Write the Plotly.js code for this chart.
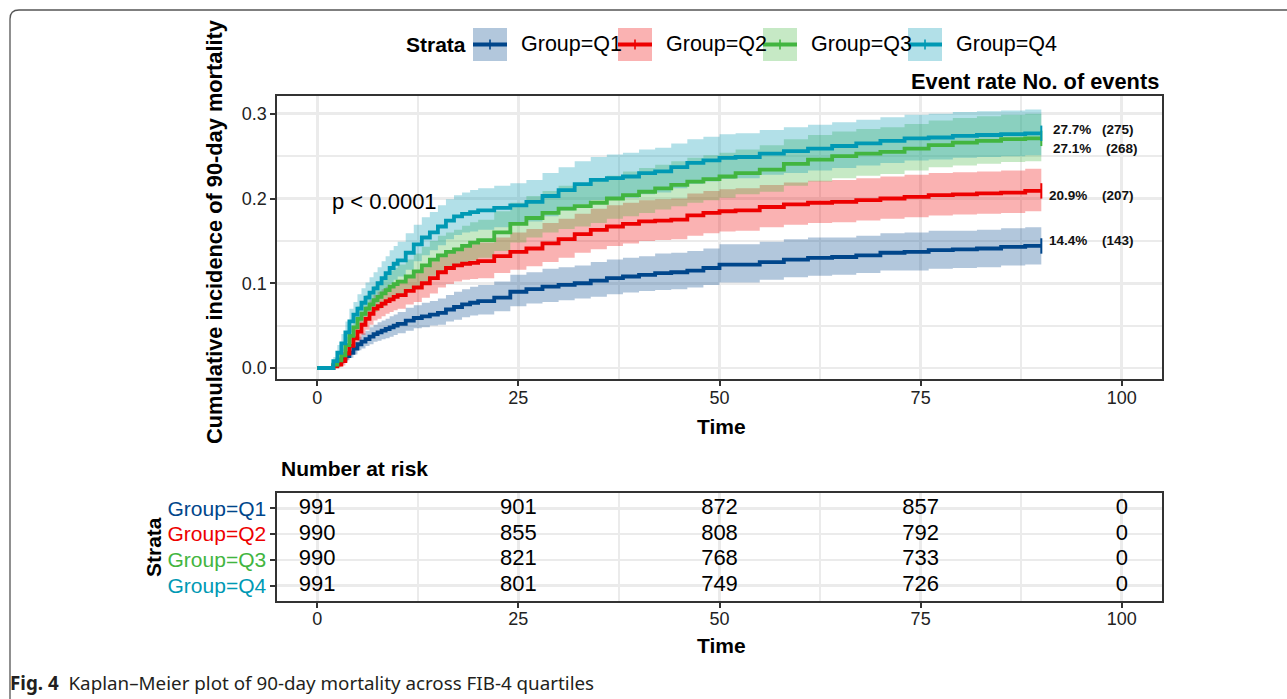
<!DOCTYPE html>
<html><head><meta charset="utf-8">
<script src="https://cdn.plot.ly/plotly-3.0.1.min.js"></script>
<style>html,body{margin:0;padding:0;background:#fff;} #chart{width:1287px;height:699px;}</style>
</head><body><div id="chart"></div>
<script>
// ---------- data ----------
const groups = ['Group=Q1', 'Group=Q2', 'Group=Q3', 'Group=Q4'];
const time = [0,2,2.5,3,3.5,4,4.5,5,5.5,6,6.5,7,7.5,8,8.5,9,9.5,10,
  11,12,13,14,15,16,17,18,19,20,22,24,26,28,30,32,34,36,38,40,42,44,46,48,50,52,55,58,61,64,67,70,73,76,79,82,85,88,90];

const q1Est = [0,.003,.007,.010,.014,.018,.023,.028,.031,.034,.037,.040,.042,.044,.046,.048,.050,.052,
  .056,.059,.061,.063,.065,.069,.072,.075,.077,.079,.083,.090,.093,.096,.098,.100,.103,.106,.108,.110,.112,.113,.115,.118,.122,.122,.125,.128,.130,.131,.133,.136,.137,.139,.140,.141,.143,.144,.144];
const q1Lo  = [0,.001,.003,.006,.009,.012,.016,.021,.023,.026,.028,.031,.032,.034,.035,.037,.039,.041,
  .044,.047,.048,.050,.051,.055,.057,.060,.062,.063,.067,.073,.076,.078,.080,.082,.084,.087,.089,.091,.092,.093,.095,.098,.101,.101,.104,.107,.109,.110,.112,.115,.115,.117,.118,.119,.121,.122,.122];
const q1Hi  = [0,.006,.011,.015,.020,.025,.031,.037,.041,.044,.048,.051,.054,.056,.058,.061,.063,.066,
  .071,.074,.077,.079,.082,.086,.090,.093,.096,.098,.102,.110,.113,.117,.119,.121,.125,.128,.130,.132,.135,.136,.138,.141,.146,.146,.149,.152,.154,.154,.156,.159,.160,.162,.162,.163,.165,.166,.166];

const q2Est = [0,.002,.004,.008,.017,.026,.035,.043,.051,.058,.064,.070,.073,.076,.079,.081,.084,.086,
  .091,.095,.100,.106,.113,.118,.121,.123,.124,.126,.132,.137,.141,.147,.152,.158,.163,.167,.170,.173,.174,.175,.180,.183,.185,.186,.190,.193,.195,.196,.198,.200,.202,.204,.205,.206,.207,.209,.209];
const q2Lo  = [0,0,.001,.003,.010,.017,.025,.032,.039,.045,.051,.056,.058,.061,.064,.066,.068,.070,
  .075,.078,.083,.088,.095,.099,.102,.104,.105,.106,.112,.116,.120,.125,.130,.136,.140,.144,.147,.150,.151,.152,.156,.159,.161,.162,.166,.169,.171,.172,.174,.176,.178,.180,.181,.182,.183,.185,.185];
const q2Hi  = [0,.005,.008,.014,.025,.036,.046,.056,.065,.073,.080,.086,.090,.093,.096,.098,.101,.104,
  .109,.114,.119,.126,.134,.139,.142,.145,.146,.148,.154,.160,.164,.171,.176,.182,.188,.192,.195,.198,.199,.200,.206,.209,.211,.212,.216,.219,.221,.222,.224,.226,.228,.230,.231,.232,.233,.235,.235];

const q3Est = [0,.004,.009,.015,.027,.038,.048,.058,.064,.070,.075,.080,.084,.088,.092,.096,.099,.102,
  .108,.114,.121,.128,.133,.137,.140,.144,.148,.151,.160,.170,.177,.183,.188,.191,.195,.200,.204,.208,.212,.216,.220,.223,.226,.230,.234,.241,.246,.250,.253,.255,.259,.263,.266,.268,.270,.271,.271];
const q3Lo  = [0,.001,.004,.008,.018,.028,.037,.046,.051,.057,.062,.066,.070,.073,.077,.080,.083,.085,
  .091,.096,.102,.109,.113,.117,.120,.123,.127,.130,.138,.148,.154,.160,.164,.167,.171,.176,.179,.183,.187,.191,.195,.198,.201,.205,.208,.215,.220,.224,.227,.229,.233,.237,.239,.241,.243,.244,.244];
const q3Hi  = [0,.008,.015,.023,.037,.050,.061,.073,.079,.086,.091,.097,.101,.106,.110,.115,.118,.122,
  .128,.135,.143,.150,.156,.160,.163,.168,.172,.175,.185,.195,.203,.209,.215,.218,.222,.227,.232,.236,.240,.244,.248,.251,.254,.258,.263,.270,.275,.279,.282,.284,.288,.292,.295,.297,.299,.300,.300];

const q4Est = [0,.008,.018,.029,.042,.055,.063,.070,.077,.083,.089,.094,.100,.106,.112,.118,.123,.127,
  .136,.146,.154,.160,.167,.174,.179,.182,.184,.186,.189,.192,.196,.203,.210,.217,.222,.224,.226,.230,.232,.237,.242,.245,.248,.249,.253,.256,.259,.262,.265,.268,.271,.272,.274,.275,.276,.277,.277];
const q4Lo  = [0,.003,.010,.020,.031,.042,.049,.055,.061,.067,.072,.077,.082,.088,.093,.099,.104,.108,
  .116,.126,.133,.139,.145,.152,.157,.160,.161,.163,.166,.169,.173,.179,.186,.193,.198,.199,.201,.205,.207,.212,.217,.220,.223,.224,.228,.230,.233,.236,.239,.242,.245,.246,.248,.249,.250,.251,.251];
const q4Hi  = [0,.013,.027,.040,.055,.070,.078,.087,.094,.101,.107,.113,.119,.126,.132,.139,.144,.149,
  .159,.169,.178,.184,.192,.199,.204,.207,.210,.212,.215,.218,.222,.230,.237,.244,.249,.252,.254,.258,.260,.265,.270,.273,.276,.277,.281,.284,.287,.290,.293,.296,.299,.300,.302,.303,.304,.305,.305];

const eventRate = ['14.4%', '20.9%', '27.1%', '27.7%'];
const nEvents   = ['(143)', '(207)', '(268)', '(275)'];

const riskTimes = [0, 25, 50, 75, 100];
const riskQ1 = [991, 901, 872, 857, 0];
const riskQ2 = [990, 855, 808, 792, 0];
const riskQ3 = [990, 821, 768, 733, 0];
const riskQ4 = [991, 801, 749, 726, 0];

const pText = 'p < 0.0001';
const xTicks = [0, 25, 50, 75, 100];
const yTicks = [0, 0.1, 0.2, 0.3];

// ---------- styles ----------
const colors = ['#00468B', '#ED0000', '#42B540', '#0099B4'];
const fills  = ['rgba(0,70,139,0.3)', 'rgba(237,0,0,0.3)', 'rgba(66,181,64,0.3)', 'rgba(0,153,180,0.3)'];
const FONT = 'Liberation Sans, Arial, Helvetica, sans-serif';
const W = 1287, H = 699;
const px = v => v / W, py = v => 1 - v / H;

const est = [q1Est, q2Est, q3Est, q4Est];
const lo  = [q1Lo, q2Lo, q3Lo, q4Lo];
const hi  = [q1Hi, q2Hi, q3Hi, q4Hi];
const risk = [riskQ1, riskQ2, riskQ3, riskQ4];

const traces = [];
groups.forEach((g, i) => {
  traces.push({x: time, y: lo[i], mode: 'lines', line: {width: 0, shape: 'hv'}, showlegend: false, hoverinfo: 'skip', xaxis: 'x', yaxis: 'y'});
  traces.push({x: time, y: hi[i], mode: 'lines', line: {width: 0, shape: 'hv'}, fill: 'tonexty', fillcolor: fills[i], showlegend: false, hoverinfo: 'skip', xaxis: 'x', yaxis: 'y'});
});
groups.forEach((g, i) => {
  traces.push({x: time, y: est[i], mode: 'lines', name: g, line: {width: 3.8, shape: 'hv', color: colors[i]}, showlegend: false, xaxis: 'x', yaxis: 'y'});
});
groups.forEach((g, i) => {
  const n = time.length - 1;
  traces.push({x: [time[n]], y: [est[i][n]], mode: 'markers', marker: {symbol: 'line-ns', size: 11, line: {width: 2, color: colors[i]}}, showlegend: false, xaxis: 'x', yaxis: 'y'});
});
// risk table
groups.forEach((g, i) => {
  traces.push({x: riskTimes, y: riskTimes.map(() => groups.length - i), mode: 'text', text: risk[i].map(String),
    textposition: 'middle center', textfont: {family: FONT, size: 22, color: '#000'}, showlegend: false, xaxis: 'x2', yaxis: 'y2'});
});

const gridC = '#EBEBEB';
const axisCommon = {showline: true, mirror: true, linecolor: '#333', linewidth: 1.6, ticks: 'outside', ticklen: 5, tickwidth: 2, tickcolor: '#333',
  showgrid: true, gridcolor: gridC, gridwidth: 2.6, zeroline: false, tickfont: {family: FONT, size: 18, color: '#222'}};

const annotations = [];
const ann = (o) => annotations.push(Object.assign({showarrow: false, xref: 'paper', yref: 'paper', font: {family: FONT, size: 21, color: '#000'}}, o));

ann({text: '<b>Cumulative incidence of 90-day mortality</b>', x: px(215), y: py(232), textangle: -90, xanchor: 'center', yanchor: 'middle', font: {family: FONT, size: 21.8, color: '#000'}});
ann({text: '<b>Time</b>', x: px(721), y: py(427), xanchor: 'center', yanchor: 'middle'});
ann({text: '<b>Event rate No. of events</b>', x: px(1161), y: py(82), xanchor: 'right', yanchor: 'middle', font: {family: FONT, size: 21.8, color: '#000'}});
ann({text: pText, x: 1.6, y: 0.196, xref: 'x', yref: 'y', xanchor: 'left', yanchor: 'middle', font: {family: FONT, size: 22, color: '#000'}});
ann({text: '<b>Number at risk</b>', x: px(279), y: py(468), xanchor: 'left', yanchor: 'middle'});
ann({text: '<b>Strata</b>', x: px(153), y: py(547), textangle: -90, xanchor: 'center', yanchor: 'middle'});
ann({text: '<b>Time</b>', x: px(721), y: py(645), xanchor: 'center', yanchor: 'middle'});
ann({text: '<b>Strata</b>', x: px(404), y: py(44), xanchor: 'left', yanchor: 'middle'});
ann({text: '<b>Fig. 4</b>  Kaplan–Meier plot of 90-day mortality across FIB-4 quartiles', x: px(8), y: py(683), xanchor: 'left', yanchor: 'middle', font: {family: 'Noto Sans, sans-serif', size: 18.8, color: '#231f20'}});

// end labels (event rate and number of events)
const labelY = [0.151, 0.203, 0.2586, 0.281];
const rateX = [90.7, 90.7, 91.2, 91.2];
const countX = [97.3, 97.3, 97.8, 97.3];
groups.forEach((g, i) => {
  ann({text: '<b>' + eventRate[i] + '</b>', x: rateX[i], y: labelY[i], xref: 'x', yref: 'y', xanchor: 'left', yanchor: 'middle', font: {family: FONT, size: 13.5, color: '#111'}});
  ann({text: '<b>' + nEvents[i] + '</b>', x: countX[i], y: labelY[i], xref: 'x', yref: 'y', xanchor: 'left', yanchor: 'middle', font: {family: FONT, size: 13.5, color: '#111'}});
});

// legend (manual)
const shapes = [];
const legX = [473, 618, 763, 908];
groups.forEach((g, i) => {
  const x0 = legX[i];
  shapes.push({type: 'rect', xref: 'paper', yref: 'paper', x0: px(x0), x1: px(x0 + 34), y0: py(61), y1: py(28), fillcolor: fills[i], line: {width: 0}, layer: 'below'});
  shapes.push({type: 'line', xref: 'paper', yref: 'paper', x0: px(x0), x1: px(x0 + 34), y0: py(44.5), y1: py(44.5), line: {color: colors[i], width: 4}});
  shapes.push({type: 'line', xref: 'paper', yref: 'paper', x0: px(x0 + 17), x1: px(x0 + 17), y0: py(39.5), y1: py(49.5), line: {color: colors[i], width: 1.6}});
  ann({text: g, x: px(x0 + 46), y: py(44), xanchor: 'left', yanchor: 'middle', font: {family: FONT, size: 21.5, color: '#000'}});
});
// outer frame (top + left with rounded corner)
shapes.push({type: 'path', xref: 'paper', yref: 'paper',
  path: `M ${px(10)},${py(699)} L ${px(10)},${py(19)} Q ${px(10)},${py(10)} ${px(19)},${py(10)} L ${px(1287)},${py(10)}`,
  line: {color: '#555', width: 1.3}});

const layout = {
  width: W, height: H, autosize: false,
  margin: {l: 0, r: 0, t: 0, b: 0},
  paper_bgcolor: '#fff', plot_bgcolor: '#fff',
  showlegend: false, hovermode: false,
  xaxis: Object.assign({}, axisCommon, {domain: [px(277), px(1162)], range: [-5, 105], tickvals: xTicks, ticktext: xTicks.map(String),
    minor: {dtick: 12.5, tick0: 0, showgrid: true, gridcolor: gridC, gridwidth: 2}, anchor: 'y', ticklabelstandoff: -3}),
  yaxis: Object.assign({}, axisCommon, {domain: [1 - 379 / H, 1 - 96 / H], range: [-0.013, 0.321], tickvals: yTicks, ticktext: yTicks.map(v => v.toFixed(1)),
    minor: {dtick: 0.05, tick0: 0, showgrid: true, gridcolor: gridC, gridwidth: 2}, anchor: 'x'}),
  xaxis2: Object.assign({}, axisCommon, {domain: [px(277), px(1162)], range: [-5, 105], tickvals: xTicks, ticktext: xTicks.map(String),
    minor: {dtick: 12.5, tick0: 0, showgrid: true, gridcolor: gridC, gridwidth: 2}, anchor: 'y2', ticklabelstandoff: -4}),
  yaxis2: Object.assign({}, axisCommon, {domain: [1 - 601 / H, 1 - 493 / H], range: [0.4, 4.6],
    tickvals: groups.map((g, i) => groups.length - i),
    ticktext: groups.map((g, i) => `<span style="color:${colors[i]}">${g}</span>`),
    tickfont: {family: FONT, size: 21, color: '#000'}, anchor: 'x2'}),
  annotations: annotations,
  shapes: shapes,
  font: {family: FONT}
};

Plotly.newPlot('chart', traces, layout, {displayModeBar: false, staticPlot: true});
</script>
</body></html>
